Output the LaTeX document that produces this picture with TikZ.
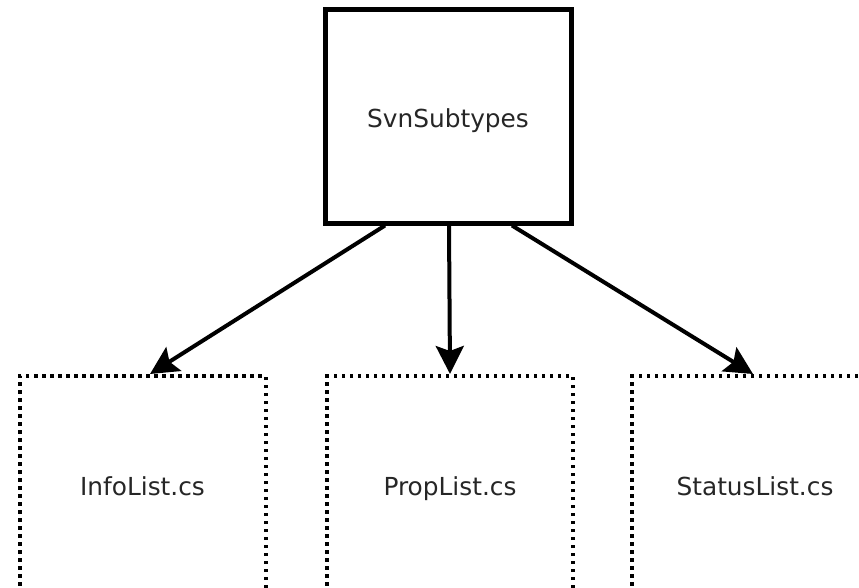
\documentclass[tikz,border=0pt]{standalone}
\usepackage{fontspec}
\setmainfont{DejaVu Sans}
\usetikzlibrary{arrows.meta,calc}
\begin{document}
\begin{tikzpicture}[x=1pt,y=-1pt,
  boxtext/.style={font=\fontsize{24.8}{28}\selectfont,text=black!85,text height=18pt,text depth=0pt},
  solidbox/.style={boxtext,draw=black,line width=5pt,minimum width=246pt,minimum height=213pt,inner sep=0pt},
  dotbox/.style={boxtext,draw=black,line width=4pt,dash pattern=on 3.5pt off 4.5pt,minimum width=246pt,minimum height=230pt,inner sep=0pt},
  conn/.style={line width=4pt,-{Stealth[length=28pt,width=28pt,inset=5pt]}}]
\useasboundingbox (0,0) rectangle (859,588);
\clip (0,0) rectangle (859,588);
\fill[white] (0,0) rectangle (859,588);
\node[solidbox,text height=22pt] (top) at (448,116.5) {SvnSubtypes};
\node[dotbox,text depth=10pt] (info) at (142.5,491) {InfoList.cs};
\node[dotbox,text depth=10pt] (prop) at (450,491) {PropList.cs};
\node[dotbox,text depth=10pt] (stat) at (755,491) {StatusList.cs};
\draw[conn] ($(top.south)+(-63,0)$) -- ($(info.north)+(7.5,0)$);
\draw[conn] ($(top.south)+(1,0)$) -- ($(prop.north)+(0,0)$);
\draw[conn] ($(top.south)+(64,0)$) -- ($(stat.north)+(-2,0)$);
\end{tikzpicture}
\end{document}
